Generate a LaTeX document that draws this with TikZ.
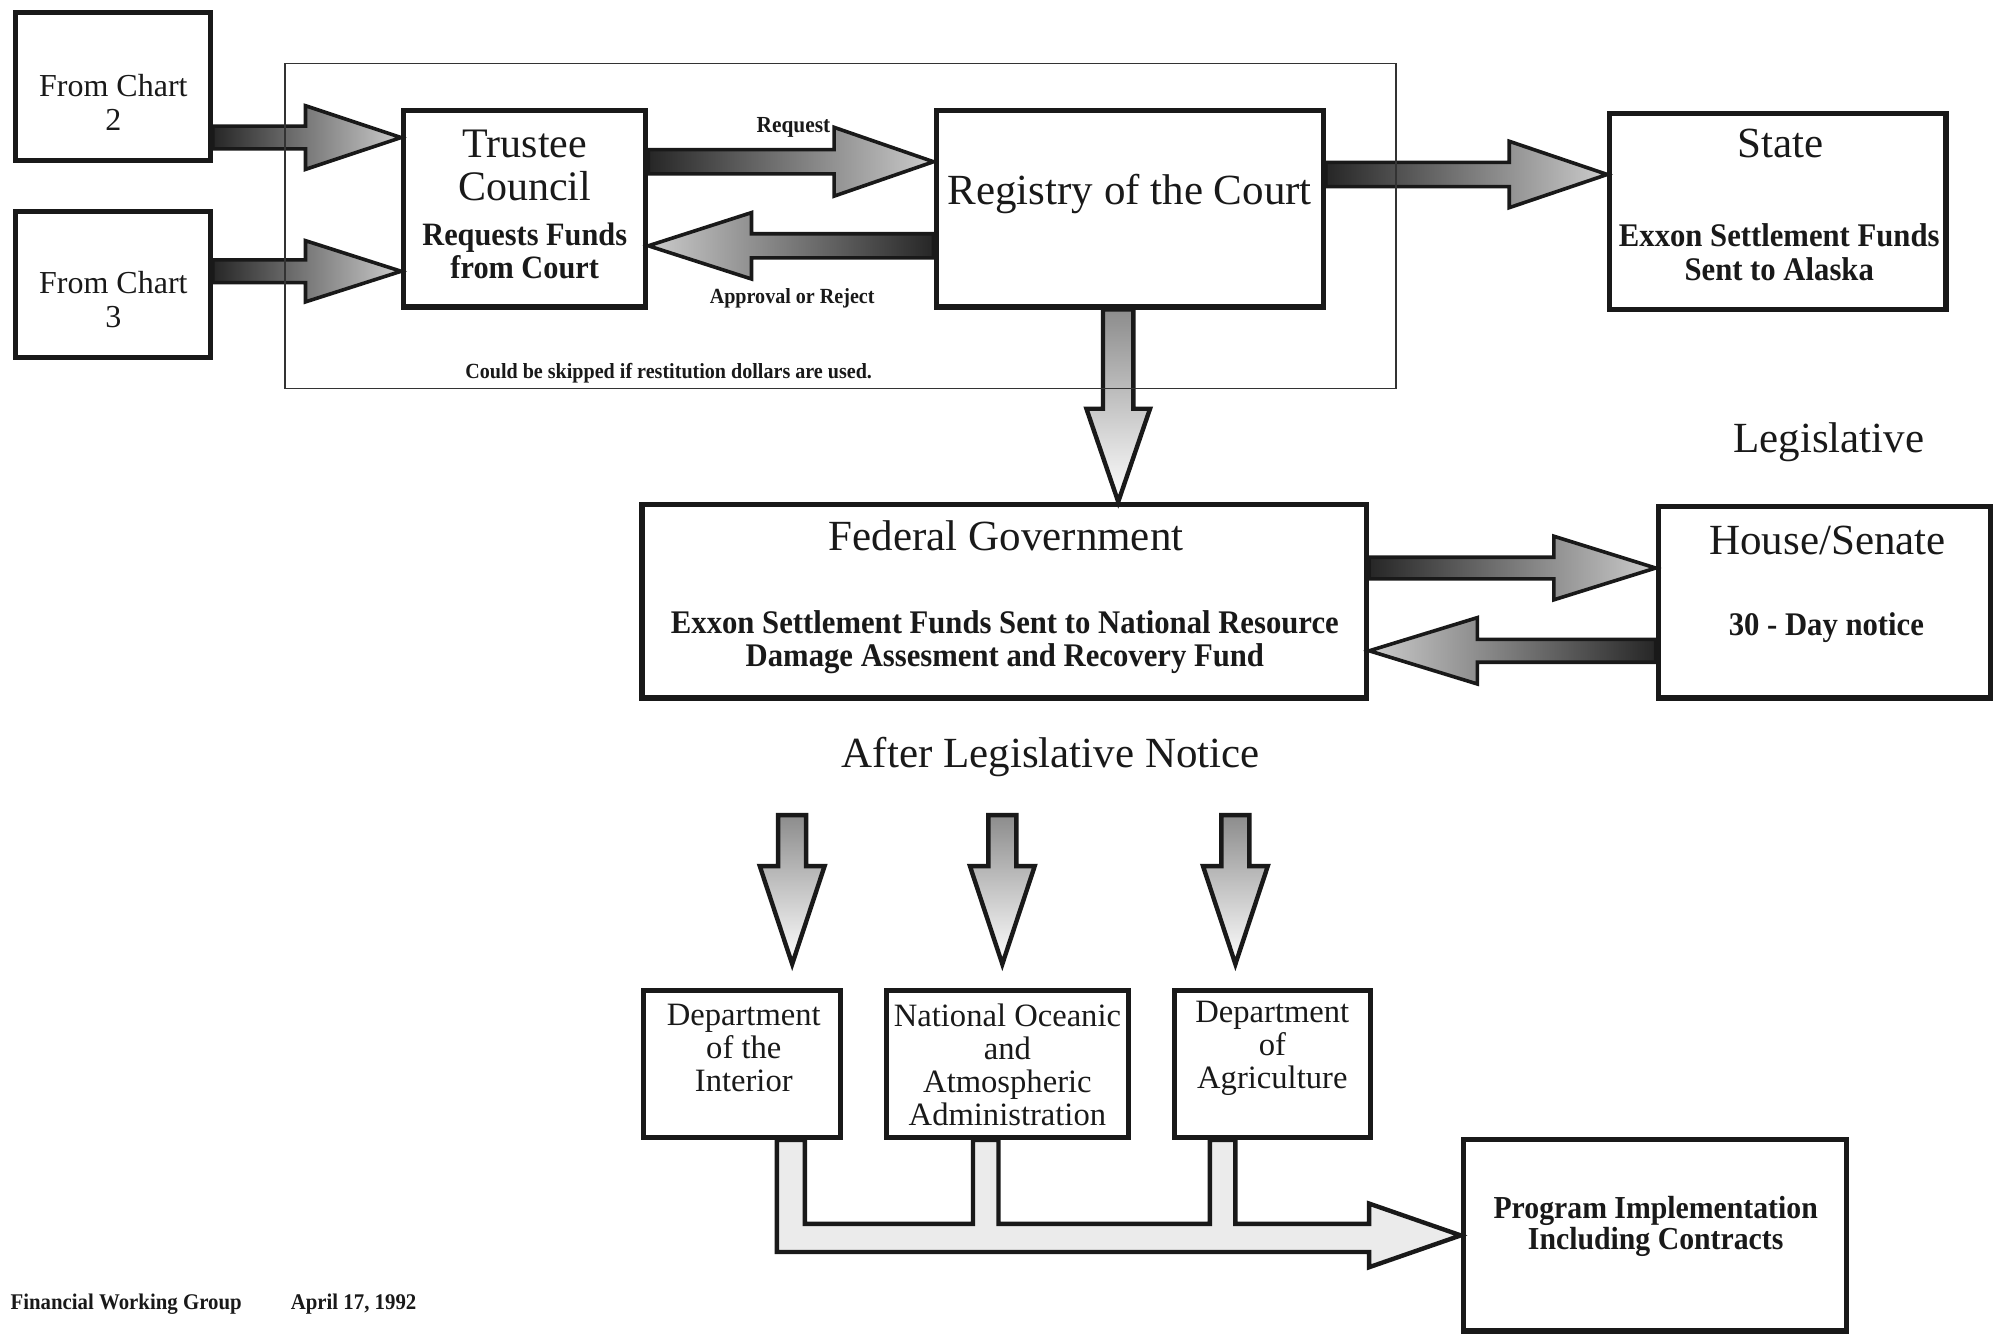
\documentclass[tikz,border=0pt]{standalone}
\usepackage{fontspec}
\setmainfont{Liberation Serif}
\newfontfamily\cnd{Liberation Serif}[FakeStretch=0.93]
\usetikzlibrary{calc,backgrounds}

% fat arrow: #1 style, #2 from, #3 to (named coordinates), #4 head length, #5 shaft half width, #6 head half width
\newcommand\fatarrow[6]{%
  \coordinate (fahb) at ($(#3)!#4!(#2)$);
  \path[#1] ($(#2)!#5!90:(#3)$) -- ($(fahb)!#5!90:(#3)$) -- ($(fahb)!#6!90:(#3)$) -- (#3)
     -- ($(fahb)!#6!-90:(#3)$) -- ($(fahb)!#5!-90:(#3)$) -- ($(#2)!#5!-90:(#3)$) -- cycle;}

\tikzset{
  box/.style 2 args={draw=black!90, line width=2.6pt, inner sep=0pt,
     minimum width=#1*0.6368pt, minimum height=#2*0.6368pt},
  grp/.style 2 args={draw=black!80, line width=0.8pt, inner sep=0pt,
     minimum width=#1*0.6368pt, minimum height=#2*0.6368pt},
  ttl/.style={font=\fontsize{21.5}{21.6}\selectfont, align=center, inner sep=0pt, text=black!90},
  fcx/.style={font=\fontsize{16}{17.2}\selectfont, align=center, inner sep=0pt, text=black!90},
  sub/.style={font=\cnd\bfseries\fontsize{16.5}{16.6}\selectfont, align=center, inner sep=0pt, text=black!90},
  dept/.style={font=\fontsize{16.3}{16.6}\selectfont, align=center, inner sep=0pt, text=black!90},
  small/.style={font=\cnd\bfseries\fontsize{10.8}{11}\selectfont, inner sep=0pt, text=black!90},
  foot/.style={font=\cnd\bfseries\fontsize{11.2}{12}\selectfont, inner sep=0pt, anchor=west, text=black!90},
  fatR/.style={draw=black!90, line width=1.8pt, line join=miter, left color=black!85, right color=black!20},
  fatL/.style={draw=black!90, line width=1.8pt, line join=miter, right color=black!85, left color=black!20},
  fatD/.style={draw=black!90, line width=2.2pt, line join=miter, top color=black!45, bottom color=white},
  bus/.style={draw=black!90, line width=2.2pt, line join=miter, fill=black!8},
}

\begin{document}
\begin{tikzpicture}[x=0.6368pt,y=-0.6368pt]
\useasboundingbox (0,0) rectangle (1568,1047);

% group frame
\node[grp={872}{255}] (frame) at (660,177.5) {};

% boxes
\node[box={153}{116}] (fc2) at (88.5,68) {};
\node[box={153}{115}] (fc3) at (88.5,223.5) {};
\node[box={190}{154}] (tc) at (412,164) {};
\node[box={304}{154}] (reg) at (887,164) {};
\node[box={264}{154}] (state) at (1396,166) {};
\node[box={569}{152}] (fed) at (788.5,472) {};
\node[box={261}{150}] (house) at (1432.5,473) {};
\node[box={155}{115}] (doi) at (582.5,835.5) {};
\node[box={190}{115}] (noaa) at (791,835.5) {};
\node[box={154}{115}] (doa) at (999,835.5) {};
\node[box={301}{150}] (prog) at (1299.5,970) {};

% texts
\node[fcx] (t1) at (89,80.5) {From Chart\\2};
\node[fcx] (t2) at (89,235) {From Chart\\3};
\node[ttl, font=\fontsize{21}{21.6}\selectfont] (t3) at (412,130) {Trustee\\Council};
\node[sub, font=\cnd\bfseries\fontsize{16.3}{16.6}\selectfont] (t4) at (412,197) {Requests Funds\\from Court};
\node[small, font=\cnd\bfseries\fontsize{11.5}{12}\selectfont] (t5) at (623,100) {Request};
\node[small] (t6) at (622,234) {Approval or Reject};
\node[small] (t7) at (525,293) {Could be skipped if restitution dollars are used.};
\node[ttl] (t8) at (887,152) {Registry of the Court};
\node[ttl] (t9) at (1398,113) {State};
\node[sub] (t10) at (1397,198) {Exxon Settlement Funds\\Sent to Alaska};
\node[ttl] (t11) at (1436,347) {Legislative};
\node[ttl] (t12) at (790,421) {Federal Government};
\node[sub] (t13) at (789,504) {Exxon Settlement Funds Sent to National Resource\\Damage Assesment and Recovery Fund};
\node[ttl] (t14) at (1435,424) {House/Senate};
\node[sub] (t15) at (1434,493) {30 - Day notice};
\node[ttl] (t16) at (825,594) {After Legislative Notice};
\node[dept] (t17) at (584,823) {Department\\of the\\Interior};
\node[dept] (t18) at (791,836) {National Oceanic\\and\\Atmospheric\\Administration};
\node[dept] (t19) at (999,823) {Department\\of\\Agriculture};
\node[sub, font=\cnd\bfseries\fontsize{16}{15.9}\selectfont] (t20) at (1300,963) {Program Implementation\\Including Contracts};
\node[foot] (t21) at (8,1024) {Financial Working Group};
\node[foot] (t22) at (228,1024) {April 17, 1992};

% connectors
\begin{scope}[on background layer]
  \coordinate (a1s) at ($(fc2.east)+(0,40)$);
  \coordinate (a1e) at ($(tc.west)+(0,-56)$);
  \fatarrow{fatR}{a1s}{a1e}{47.8pt}{5.7pt}{15.9pt}
  \coordinate (a2s) at ($(fc3.east)+(0,-10.5)$);
  \coordinate (a2e) at ($(tc.west)+(0,49)$);
  \fatarrow{fatR}{a2s}{a2e}{47.8pt}{5.7pt}{15.3pt}
  \coordinate (a3s) at ($(tc.east)+(0,-37)$);
  \coordinate (a3e) at ($(reg.west)+(0,-37)$);
  \fatarrow{fatR}{a3s}{a3e}{49.7pt}{6.05pt}{17.2pt}
  \coordinate (a4s) at ($(reg.west)+(0,29)$);
  \coordinate (a4e) at ($(tc.east)+(0,29)$);
  \fatarrow{fatL}{a4s}{a4e}{51.6pt}{6.05pt}{16.6pt}
  \coordinate (a5s) at ($(reg.east)+(0,-27)$);
  \coordinate (a5e) at ($(state.west)+(0,-29)$);
  \fatarrow{fatR}{a5s}{a5e}{49pt}{6.05pt}{16.6pt}
  \coordinate (a6s) at ($(reg.south)+(-9,0)$);
  \coordinate (a6e) at ($(fed.north)+(89.5,0)$);
  \fatarrow{fatD}{a6s}{a6e}{46.5pt}{7.6pt}{15.9pt}
  \coordinate (a7s) at ($(fed.east)+(0,-26)$);
  \coordinate (a7e) at ($(house.west)+(0,-27)$);
  \fatarrow{fatR}{a7s}{a7e}{50.9pt}{5.4pt}{15.9pt}
  \coordinate (a8s) at ($(house.west)+(0,38)$);
  \coordinate (a8e) at ($(fed.east)+(0,39)$);
  \fatarrow{fatL}{a8s}{a8e}{54.1pt}{5.7pt}{16.6pt}
  % three arrows after legislative notice
  \coordinate (d1s) at ($(doi.north)+(39.5,-136)$);
  \coordinate (d1e) at ($(doi.north)+(39.5,-19)$);
  \fatarrow{fatD}{d1s}{d1e}{49pt}{7pt}{16.2pt}
  \coordinate (d2s) at ($(noaa.north)+(-4,-136)$);
  \coordinate (d2e) at ($(noaa.north)+(-4,-19)$);
  \fatarrow{fatD}{d2s}{d2e}{49pt}{7pt}{16.2pt}
  \coordinate (d3s) at ($(doa.north)+(-29,-136)$);
  \coordinate (d3e) at ($(doa.north)+(-29,-19)$);
  \fatarrow{fatD}{d3s}{d3e}{49pt}{7pt}{16.2pt}
  % bus to program implementation
  \coordinate (s1l) at ($(doi.south)+(27.5,0)$);
  \coordinate (s1r) at ($(doi.south)+(49.5,0)$);
  \coordinate (s2l) at ($(noaa.south)+(-27,0)$);
  \coordinate (s2r) at ($(noaa.south)+(-7,0)$);
  \coordinate (s3l) at ($(doa.south)+(-49,0)$);
  \coordinate (s3r) at ($(doa.south)+(-29,0)$);
  \coordinate (btop) at ($(prog.west)+(0,-9)$);
  \coordinate (bbot) at ($(prog.west)+(0,13)$);
  \coordinate (bhb) at ($(prog.west)+(-72,0)$);
  \path[bus] (s1l) -- (s1l |- bbot) -- (bhb |- bbot) -- ($(bhb)+(0,25)$) -- (prog.west)
     -- ($(bhb)+(0,-25)$) -- (bhb |- btop) -- (s3r |- btop) -- (s3r) -- (s3l)
     -- (s3l |- btop) -- (s2r |- btop) -- (s2r) -- (s2l) -- (s2l |- btop)
     -- (s1r |- btop) -- (s1r) -- cycle;
\end{scope}
\end{tikzpicture}
\end{document}
